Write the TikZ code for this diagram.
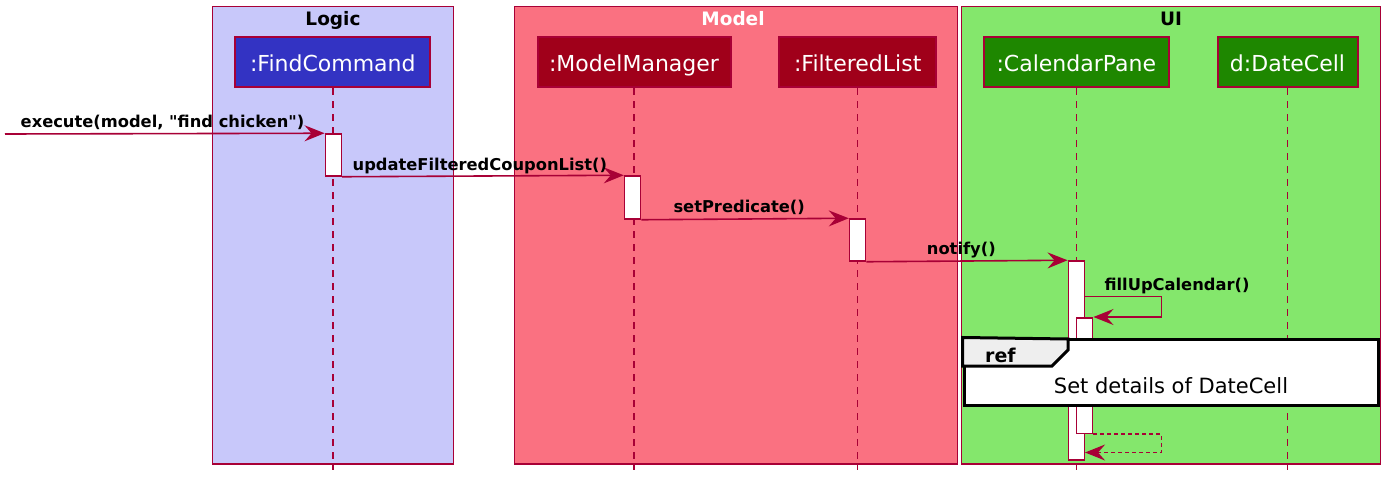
\documentclass[tikz,border=0pt]{standalone}
\usepackage{fontspec}
\setmainfont{DejaVu Sans}[Ligatures=TeXReset]
\usepackage{tikz}
\usetikzlibrary{arrows.meta}
\definecolor{umlred}{HTML}{A80036}
\definecolor{logicbg}{HTML}{C8C8FA}
\definecolor{modelbg}{HTML}{FA7181}
\definecolor{uibg}{HTML}{84E76C}
\definecolor{logicfg}{HTML}{3333C3}
\definecolor{modelfg}{HTML}{A0001A}
\definecolor{uifg}{HTML}{1E8700}
\definecolor{tabgray}{HTML}{EEEEEE}

\begin{document}
\begin{tikzpicture}[x=1pt, y=-1pt,
      msg/.style={draw=umlred, line width=1.6pt, -{Stealth[length=20pt, width=16pt, inset=7pt]}},
      reply/.style={msg, dash pattern=on 4pt off 3pt},
      lifeline/.style={draw=umlred, line width=1.4pt, dash pattern=on 7pt off 6pt},
      group/.style={draw=umlred, line width=1.4pt},
      title/.style={font=\fontsize{18.5}{20}\selectfont\bfseries, anchor=base, inner sep=0pt},
      part/.style={draw=umlred, line width=2pt, minimum height=50.5pt, text=white, inner sep=0pt,
        font=\fontsize{22}{24}\selectfont, text height=20pt, text depth=1pt},
      act/.style={draw=umlred, fill=white, line width=1.5pt, minimum width=16pt, inner sep=0pt},
      lbl/.style={font=\fontsize{16.3}{18}\selectfont\bfseries, anchor=base west, inner sep=0pt}]
    \useasboundingbox (0,0) rectangle (1396,492);
    \draw[group, fill=logicbg] (212.5,6.5) rectangle (453.5,464);
    \draw[group, fill=modelbg] (514.5,6.5) rectangle (957.5,464);
    \draw[group, fill=uibg] (961.5,6.5) rectangle (1380.5,464);
    \node[title] (tLogic) at (333,25.5) {Logic};
    \node[title, text=white] (tModel) at (733,25.5) {Model};
    \node[title] (tUI) at (1171,25.5) {UI};

    \node[part, fill=logicfg, minimum width=195pt] (fc) at (332.8,62) {:FindCommand};
    \node[part, fill=modelfg, minimum width=193pt] (mm) at (634,62) {:ModelManager};
    \node[part, fill=modelfg, minimum width=156.5pt] (fl) at (857.7,62) {:FilteredList};
    \node[part, fill=uifg, minimum width=185.5pt] (cp) at (1076.3,62) {:CalendarPane};
    \node[part, fill=uifg, minimum width=140pt] (dc) at (1287.5,62) {d:DateCell};
    \foreach \p in {fc, mm, fl, cp, dc}
      \draw[lifeline] (\p.south) -- (\p |- 0,470);

    \node[act, minimum height=42pt] (actFC) at (333.3,155) {};
    \node[act, minimum height=43pt] (actMM) at (632.5,197.5) {};
    \node[act, minimum height=42pt] (actFL) at (857.5,240) {};
    \node[act, minimum height=199pt] (actCP) at (1076.3,360.5) {};
    \node[act, minimum height=115.5pt] (actIn) at (1084.7,375.5) {};

    \coordinate (start) at (5,134);
    \coordinate (selfTop) at (1161.5,296.5);
    \coordinate (retBot) at (1161.5,452.5);
    \draw[msg] (start) -- (actFC.north west);
    \draw[msg] (actFC.south east) -- (actMM.north west);
    \draw[msg] (actMM.south east) -- (actFL.north west);
    \draw[msg] (actFL.south east) -- (actCP.north west);
    \draw[msg] (actCP.east |- selfTop) -- (selfTop) |- (actIn.north east);
    \node[lbl] (lExec) at (20.5,128) {execute(model, "find chicken")};
    \node[lbl] (lUpd) at (352.5,170) {updateFilteredCouponList()};
    \node[lbl] (lSet) at (673.3,212.5) {setPredicate()};
    \node[lbl] (lNot) at (926.7,254.5) {notify()};
    \node[lbl] (lFill) at (1104.3,290) {fillUpCalendar()};

    \node[draw=black, fill=white, line width=3pt, minimum width=414.3pt, minimum height=66.8pt,
      inner sep=0pt] (ref) at (1171.35,372.4) {};
    \draw[line width=3pt, fill=tabgray] (ref.north west) -- (1068,339) -- (1068,350)
      -- (1052,366) -- (ref.west |- 0,366) -- cycle;
    \node[font=\fontsize{19}{20}\selectfont\bfseries, anchor=base west, inner sep=0pt] (lRef)
      at (985,362.7) {ref};
    \node[font=\fontsize{21}{22}\selectfont, anchor=base, inner sep=0pt] (lDet)
      at (1171,393.3) {Set details of DateCell};
    \draw[reply] (actIn.south east) -| (retBot) -- (actCP.east |- retBot);
  \end{tikzpicture}
\end{document}
